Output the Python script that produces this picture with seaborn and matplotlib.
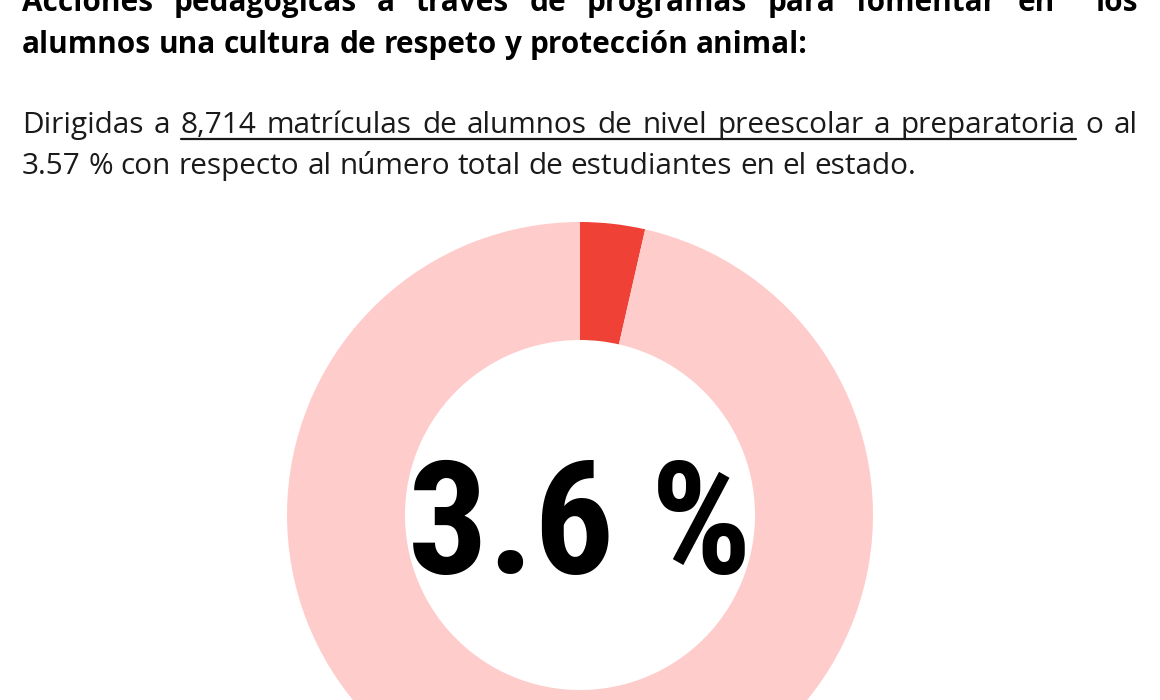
import matplotlib
matplotlib.use("Agg")
import matplotlib.pyplot as plt
import seaborn as sns
import pandas as pd
from matplotlib.font_manager import FontProperties
from matplotlib.lines import Line2D

# ---------------- data ----------------
title_lines = [
    "Acciones pedagógicas a través de programas para fomentar en  los",
    "alumnos una cultura de respeto y protección animal:",
]
body_lines = [
    "Dirigidas a 8,714 matrículas de alumnos de nivel preescolar a preparatoria o al",
    "3.57 % con respecto al número total de estudiantes en el estado.",
]
underlined_words = ["8,714", "preparatoria"]  # first and last underlined word (line 1)
categories = ["Alumnos atendidos", "Resto de estudiantes"]
shares = [3.57, 96.43]
center_label = "3.6 %"
slice_colors = ["#EF4136", "#FFCCCC"]

df = pd.DataFrame({"categoria": categories, "porcentaje": shares})

# ---------------- style ----------------
sns.set_theme(style="white")
plt.rcParams["font.family"] = ["Open Sans", "DejaVu Sans"]

W, H = 1160, 700
fig = plt.figure(figsize=(W / 100, H / 100), dpi=100)
fig.patch.set_facecolor("white")
renderer = fig.canvas.get_renderer()

def px(x, y):
    return x / W, 1 - y / H

def width_of(s, fp):
    t = fig.text(0, 0, s, fontproperties=fp)
    w = t.get_window_extent(renderer).width
    t.remove()
    return w

def fit_size(s, target, weight, family="Open Sans", stretch="normal"):
    fp = FontProperties(family=family, weight=weight, size=20, stretch=stretch)
    w = width_of(s, fp)
    return 20 * target / w

def justified(line, fp, x0, x1, y, justify=True, color="black"):
    words = line.split(" ")
    widths = [width_of(w, fp) if w else 0 for w in words]
    if justify and len(words) > 1:
        gap = (x1 - x0 - sum(widths)) / (len(words) - 1)
    else:
        gap = width_of("a a", fp) - width_of("aa", fp)
    x = x0
    pos = []
    for w, wd in zip(words, widths):
        if w:
            fig.text(*px(x, y), w, fontproperties=fp, va="baseline", ha="left", color=color)
        pos.append((w, x, x + wd))
        x += wd + gap
    return pos

L, R = 22, 1138

# title (bold)
ts = fit_size(title_lines[1], 781, "bold")
fp_title = FontProperties(family=["Open Sans", "DejaVu Sans"], weight="bold", size=ts)
justified(title_lines[0], fp_title, L, R, 11, justify=True)
justified(title_lines[1], fp_title, L, R, 53, justify=False)

# body
bs = fit_size(body_lines[1], 893, "normal")
fp_body = FontProperties(family=["Open Sans", "DejaVu Sans"], weight="normal", size=bs)
pos = justified(body_lines[0], fp_body, L, R, 133, justify=True, color="#1a1a1a")
justified(body_lines[1], fp_body, L, R, 174, justify=False, color="#1a1a1a")

xs = [p for p in pos if p[0] == underlined_words[0]][0][1]
xe = [p for p in pos if p[0] == underlined_words[1]][0][2]
fig.add_artist(Line2D([xs / W, xe / W], [1 - 138.5 / H] * 2, transform=fig.transFigure,
                      color="#1a1a1a", linewidth=1.6))

# ---------------- donut ----------------
cx, cy, r_out, r_in = 580, 515, 293, 175
ax = fig.add_axes([(cx - r_out) / W, (H - cy - r_out) / H, 2 * r_out / W, 2 * r_out / H])
ax.pie(df["porcentaje"], colors=slice_colors, startangle=90, counterclock=False,
       radius=1, wedgeprops=dict(width=(r_out - r_in) / r_out, edgecolor="none"))
ax.set_xlim(-1, 1)
ax.set_ylim(-1, 1)
ax.set_axis_off()

# center label in a heavy condensed face
big_size = fit_size(center_label, 344, "bold", family="Roboto Condensed", stretch="condensed")
big_size = min(big_size, 121 / 0.711 * 72 / 100)
big_fp = FontProperties(family=["Roboto Condensed", "DejaVu Sans"], weight="bold",
                        stretch="condensed", size=big_size)
fig.text(*px(580, 573), center_label, fontproperties=big_fp, ha="center", va="baseline", color="black")

fig.savefig("out.png", dpi=100, facecolor="white")
